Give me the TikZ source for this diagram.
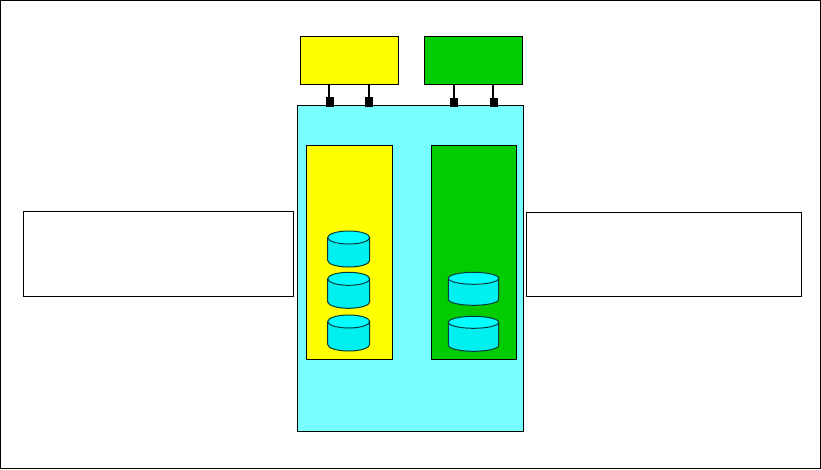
\documentclass[tikz,border=0pt]{standalone}
\usepackage{xcolor}
\definecolor{hostyellow}{HTML}{FFFF00}
\definecolor{hostgreen}{HTML}{00CC00}
\definecolor{boxcyan}{HTML}{77FFFF}
\definecolor{drumtop}{HTML}{00FFFF}
\definecolor{drumbody}{HTML}{00F0F0}

\begin{document}
\begin{tikzpicture}[x=1pt, y=-1pt,
  b/.style={draw, line width=1.2pt, rectangle, inner sep=0pt, outer sep=0pt},
  Y/.style={b, fill=hostyellow}, G/.style={b, fill=hostgreen},
  port/.style={fill=black, rectangle, inner sep=0pt, outer sep=0pt, minimum width=8pt},
  wire/.style={line width=2pt},
  pics/drum/.style n args={3}{code={
    \draw[line width=1pt, draw=black!75!drumbody, fill=drumbody] (-#1,0) -- (-#1,#3) arc (180:360:#1pt and #2pt) -- (#1,0);
    \draw[line width=1pt, draw=black!75!drumbody, fill=drumtop] (0,0) ellipse (#1pt and #2pt);
  }}]
 \useasboundingbox (0,0) rectangle (821,469);
 % Outer frame
 \node[b, minimum width=820pt, minimum height=468pt] (frame) at (410.5,234.5) {};
 % Text boxes at the sides
 \node[b, minimum width=270pt, minimum height=85pt] (leftbox) at (158.5,254) {};
 \node[b, minimum width=275pt, minimum height=84pt] (rightbox) at (664,254.5) {};
 % Hosts (top)
 \node[Y, minimum width=98pt, minimum height=48pt] (yhost) at (349.5,60.5) {};
 \node[G, minimum width=98pt, minimum height=48pt] (ghost) at (473.5,60.5) {};
 % Storage unit and partitions
 \node[b, fill=boxcyan, minimum width=226pt, minimum height=326pt] (unit) at (410.5,268.5) {};
 \node[Y, minimum width=86pt, minimum height=214pt] (ypart) at (349.5,252.5) {};
 \node[G, minimum width=85pt, minimum height=214pt] (gpart) at (474,252.5) {};
 % Ports and their wires
 \node[port, minimum height=10pt] (p1) at (330,102) {};
 \node[port, minimum height=10pt] (p2) at (369,102) {};
 \node[port, minimum height=9pt] (p3) at (454,102.5) {};
 \node[port, minimum height=9pt] (p4) at (494,102.5) {};
 \draw[wire] ([xshift=-1pt]p1.north) -- ([xshift=-1pt]p1.north |- yhost.south);
 \draw[wire] (p2.north) -- (p2.north |- yhost.south);
 \draw[wire] (p3.north) -- (p3.north |- ghost.south);
 \draw[wire] ([xshift=-1pt]p4.north) -- ([xshift=-1pt]p4.north |- ghost.south);
 % Disks
 \pic (d1) at (348.7,237.5) {drum={21}{6.5}{23}};
 \pic (d2) at (348.7,278.8) {drum={21}{6.5}{23}};
 \pic (d3) at (348.7,321.5) {drum={21}{6.5}{23}};
 \pic (d4) at (473.5,278.3) {drum={25.2}{6}{21}};
 \pic (d5) at (473.5,322.3) {drum={25.2}{6}{23}};
\end{tikzpicture}
\end{document}
